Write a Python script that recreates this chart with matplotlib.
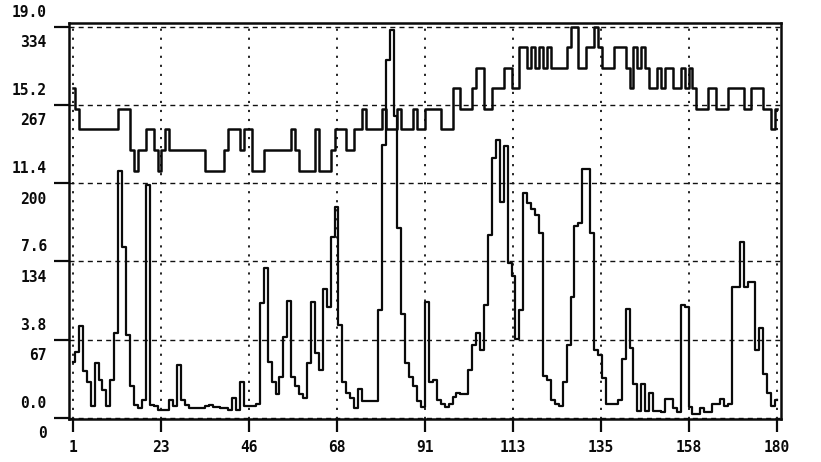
import numpy as np
import matplotlib
matplotlib.use("Agg")
import matplotlib.pyplot as plt
from matplotlib.transforms import ScaledTranslation

# ---------------- data ----------------
index = np.arange(1, 181)

# upper trace (left scale 0.0 - 19.0)
series_a = [
    16, 15, 14, 14, 14, 14, 14, 14, 14, 14,
    14, 14, 15, 15, 15, 13, 12, 13, 13, 14,
    14, 13, 12, 13, 14, 13, 13, 13, 13, 13,
    13, 13, 13, 13, 12, 12, 12, 12, 12, 13,
    14, 14, 14, 13, 14, 14, 12, 12, 12, 13,
    13, 13, 13, 13, 13, 13, 14, 13, 12, 12,
    12, 12, 14, 12, 12, 12, 13, 14, 14, 14,
    13, 13, 14, 14, 15, 14, 14, 14, 14, 15,
    14, 14, 14, 15, 14, 14, 14, 15, 14, 14,
    15, 15, 15, 15, 14, 14, 14, 16, 16, 15,
    15, 15, 16, 17, 17, 15, 15, 16, 16, 16,
    17, 17, 16, 16, 18, 18, 17, 18, 17, 18,
    17, 18, 17, 17, 17, 17, 18, 19, 19, 17,
    17, 18, 18, 19, 18, 17, 17, 17, 18, 18,
    18, 17, 16, 18, 17, 18, 17, 16, 16, 17,
    16, 17, 17, 16, 16, 17, 16, 17, 16, 15,
    15, 15, 16, 16, 15, 15, 15, 16, 16, 16,
    16, 15, 15, 16, 16, 16, 15, 15, 14, 15,
]

# lower trace (left scale 0 - 334)
series_b = [
    48, 56, 78, 40, 31, 10, 47, 32, 24, 10,
    32, 72, 211, 146, 71, 27, 11, 8, 15, 199,
    11, 10, 7, 7, 7, 15, 10, 45, 15, 11,
    8, 8, 8, 8, 10, 11, 9, 9, 8, 8,
    7, 17, 7, 31, 10, 10, 10, 12, 98, 128,
    48, 31, 20, 35, 69, 100, 35, 27, 20, 17,
    47, 99, 55, 41, 110, 95, 154, 180, 79, 31,
    21, 17, 8, 25, 14, 14, 14, 14, 92, 233,
    305, 331, 258, 162, 89, 47, 35, 27, 14, 9,
    99, 31, 32, 15, 12, 9, 12, 18, 21, 20,
    20, 41, 62, 72, 58, 96, 156, 222, 237, 184,
    232, 132, 121, 67, 92, 192, 183, 178, 173, 158,
    36, 32, 15, 12, 10, 31, 62, 103, 164, 166,
    212, 212, 158, 58, 54, 34, 12, 12, 12, 15,
    50, 93, 60, 29, 6, 29, 6, 21, 6, 6,
    5, 16, 16, 8, 5, 96, 95, 9, 3, 3,
    8, 5, 5, 12, 12, 16, 10, 12, 112, 112,
    150, 112, 116, 116, 58, 77, 37, 21, 10, 15,
]

x_ticks = [1 + k * 179 / 8 for k in range(9)]
x_tick_labels = ["1", "23", "46", "68", "91", "113", "135", "158", "180"]
b_ticks = [0, 66.8, 133.6, 200.4, 267.2, 334]
b_tick_labels = ["0", "67", "134", "200", "267", "334"]
a_ticks = [0, 3.8, 7.6, 11.4, 15.2, 19.0]
a_tick_labels = ["0.0", "3.8", "7.6", "11.4", "15.2", "19.0"]

# ---------------- figure ----------------
plt.rcParams["font.family"] = ["DejaVu Sans Mono", "DejaVu Sans"]
plt.rcParams["font.weight"] = "bold"

W, H = 821, 462
fig = plt.figure(figsize=(W / 100, H / 100), dpi=100)
ax = fig.add_axes([69 / W, 1 - 419 / H, 712 / W, 396 / H])
ax2 = ax.twinx()

b_lo, b_hi = -1, 337
ax.set_xlim(0, 181)
ax.set_ylim(b_lo, b_hi)
ax2.set_ylim(b_lo * 19 / 334, b_hi * 19 / 334)

ax.set_axisbelow(True)
ax.grid(axis="y", color="#111111", linewidth=1.0, linestyle=(0, (3.6, 3.0)))
ax.grid(axis="x", color="#111111", linewidth=1.3, linestyle=(0, (1.2, 3.8)))

ax.plot(index, series_b, drawstyle="steps-mid", color="#0a0a0a", linewidth=1.6)
ax2.plot(index, series_a, drawstyle="steps-mid", color="#0a0a0a", linewidth=1.8)

for s in ax.spines.values():
    s.set_linewidth(1.8)
    s.set_color("#0a0a0a")
for s in ax2.spines.values():
    s.set_visible(False)

ax.set_xticks(x_ticks, x_tick_labels)
ax.set_yticks(b_ticks, b_tick_labels)
ax2.set_yticks(a_ticks, a_tick_labels)

ax.tick_params(axis="x", direction="out", length=9, width=1.6, pad=6,
               labelsize=10.5, colors="#0a0a0a")
ax.tick_params(axis="y", direction="out", length=11, width=1.6, pad=5,
               labelsize=10.5, colors="#0a0a0a")
ax2.tick_params(axis="y", left=True, labelleft=True, right=False,
                labelright=False, length=0, pad=16, labelsize=10.5,
                colors="#0a0a0a")

down = ScaledTranslation(0, -0.145, fig.dpi_scale_trans)
up = ScaledTranslation(0, 0.16, fig.dpi_scale_trans)
for lab in ax.get_yticklabels():
    lab.set_transform(lab.get_transform() + down)
for lab in ax2.get_yticklabels():
    lab.set_transform(lab.get_transform() + up)

fig.savefig("out.png", dpi=100, facecolor="white")
